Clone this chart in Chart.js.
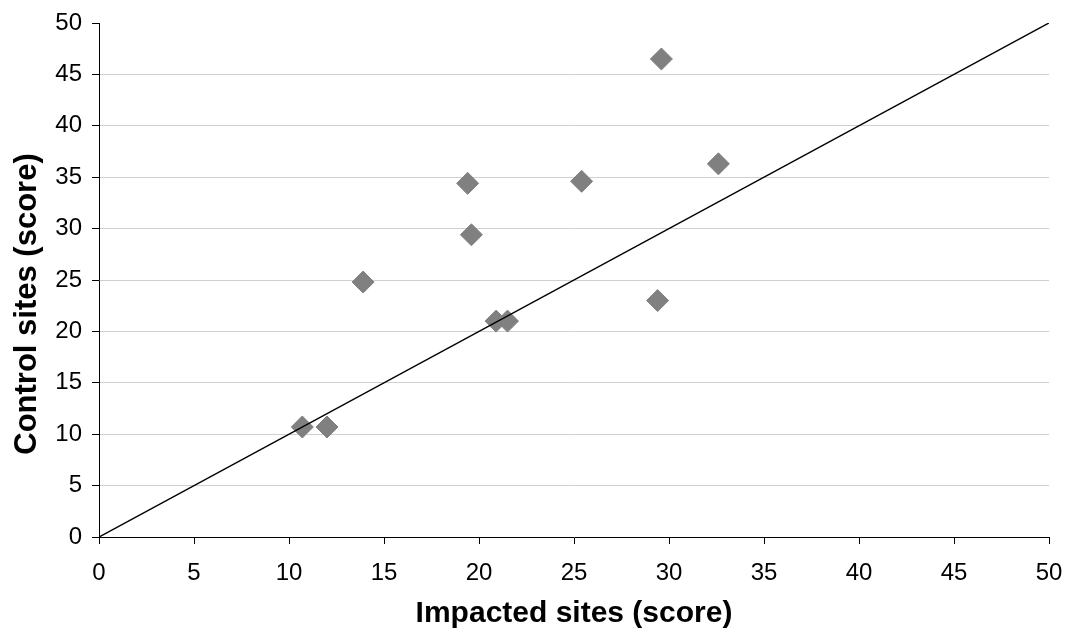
<!DOCTYPE html>
<html>
<head>
<meta charset="utf-8">
<script src="https://cdn.jsdelivr.net/npm/chart.js@4/dist/chart.umd.min.js"></script>
<style>
  body { margin: 0; background: #fff; }
  #wrap { width: 1067px; height: 635px; position: relative; }
</style>
</head>
<body>
<div id="wrap"><canvas id="scoreChart"></canvas></div>
<script>
// data
const impacted = [10.7, 12.0, 13.9, 19.4, 19.6, 20.9, 21.5, 25.4, 29.4, 29.6, 32.6];
const control = [10.7, 10.7, 24.8, 34.4, 29.4, 21.0, 21.0, 34.6, 23.0, 46.5, 36.3];
const lineX = [0, 50];
const lineY = [0, 50];
const axisMin = 0;
const axisMax = 50;
const axisStep = 5;

const fontFamily = "'Liberation Sans', Arial, sans-serif";

// y axis title drawn by hand so it can sit where the original has it
const yTitlePlugin = {
  id: "yTitle",
  afterDraw(chart) {
    const ctx = chart.ctx;
    ctx.save();
    ctx.translate(27, 304);
    ctx.rotate(-Math.PI / 2);
    ctx.font = "bold 31px " + fontFamily;
    ctx.fillStyle = "#000";
    ctx.textAlign = "center";
    ctx.textBaseline = "middle";
    ctx.fillText("Control sites (score)", 0, 0);
    ctx.restore();
  },
};

const ctx = document.getElementById("scoreChart").getContext("2d");
const myChart = new Chart(ctx, {
  type: "scatter",
  data: {
    datasets: [
      {
        type: "line",
        label: "1:1",
        data: lineX.map((x, i) => ({ x: x, y: lineY[i] })),
        borderColor: "#000",
        borderWidth: 1.5,
        pointRadius: 0,
        fill: false,
      },
      {
        label: "Sites",
        data: impacted.map((x, i) => ({ x: x, y: control[i] })),
        pointStyle: "rectRot",
        pointRadius: 11,
        pointHoverRadius: 11,
        backgroundColor: "#808080",
        borderColor: "#808080",
        borderWidth: 1,
      },
    ],
  },
  options: {
    responsive: true,
    maintainAspectRatio: false,
    animation: false,
    layout: { padding: { top: 23, right: 18, left: 0, bottom: 0 } },
    plugins: {
      legend: { display: false },
      tooltip: { enabled: false },
    },
    scales: {
      x: {
        type: "linear",
        min: axisMin,
        max: axisMax,
        afterFit: (scale) => {
          scale.height = 98;
          scale.paddingLeft = 0;
          scale.paddingRight = 0;
        },
        ticks: {
          stepSize: axisStep,
          color: "#000",
          padding: 15,
          font: { family: fontFamily, size: 24 },
        },
        grid: {
          color: "transparent",
          tickColor: "#000",
          tickLength: 7,
        },
        border: { color: "#000", width: 1 },
        title: {
          display: true,
          text: "Impacted sites (score)",
          color: "#000",
          padding: { top: 0, bottom: 3 },
          font: { family: fontFamily, size: 30, weight: "bold" },
        },
      },
      y: {
        type: "linear",
        min: axisMin,
        max: axisMax,
        afterFit: (scale) => {
          scale.width = 99;
          scale.paddingTop = 0;
          scale.paddingBottom = 0;
        },
        ticks: {
          stepSize: axisStep,
          color: "#000",
          padding: 10,
          font: { family: fontFamily, size: 24 },
        },
        grid: {
          color: (c) => (c.tick && (c.tick.value === axisMax || c.tick.value === axisMin) ? "transparent" : "#d0d0d0"),
          tickColor: "#000",
          tickLength: 7,
        },
        border: { color: "#000", width: 1 },
      },
    },
  },
  plugins: [yTitlePlugin],
});
</script>
</body>
</html>
